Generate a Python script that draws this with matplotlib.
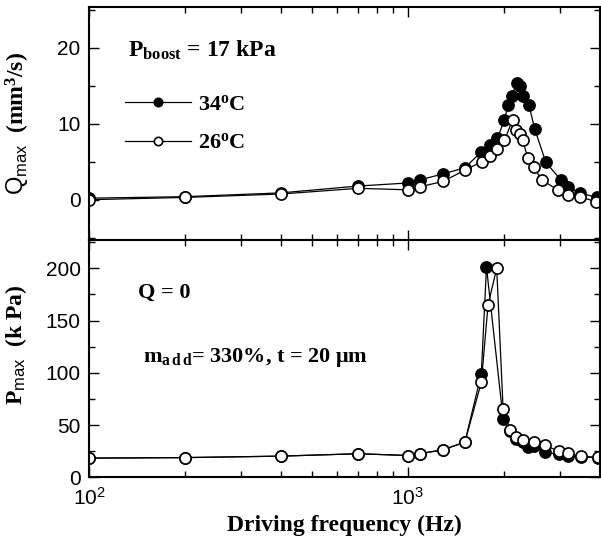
import matplotlib
matplotlib.use("Agg")
import matplotlib.pyplot as plt
from matplotlib.ticker import MultipleLocator, LogLocator, NullFormatter

plt.rcParams['font.family'] = ['Liberation Sans', 'DejaVu Sans']
plt.rcParams['mathtext.fontset'] = 'custom'
plt.rcParams['mathtext.rm'] = 'Liberation Serif:bold'
plt.rcParams['mathtext.bf'] = 'Liberation Serif:bold'
plt.rcParams['mathtext.it'] = 'Liberation Serif:italic:bold'
plt.rcParams['mathtext.sf'] = 'Liberation Sans'

# --- data ---
# top panel: Q_max (mm^3/s) vs driving frequency (Hz)
freq_q_34 = [100, 200, 400, 700, 1000, 1090, 1290, 1510, 1700, 1810, 1910, 2010,
             2060, 2120, 2200, 2250, 2300, 2400, 2500, 2710, 3020, 3180, 3460, 3910]
q_34 = [0.2, 0.4, 0.9, 1.8, 2.2, 2.6, 3.4, 4.2, 6.3, 7.2, 8.1, 10.5,
        12.4, 13.7, 15.4, 15.0, 13.7, 12.4, 9.3, 4.9, 2.6, 1.7, 0.9, 0.3]

freq_q_26 = [100, 200, 400, 700, 1000, 1090, 1290, 1510, 1710, 1810, 1910, 2010,
             2130, 2180, 2240, 2290, 2380, 2480, 2630, 2950, 3180, 3460, 3880]
q_26 = [0.0, 0.3, 0.75, 1.5, 1.3, 1.7, 2.4, 3.9, 5.0, 5.8, 6.7, 7.8,
        10.5, 9.2, 8.6, 7.8, 5.5, 4.3, 2.6, 1.3, 0.65, 0.4, -0.25]

# bottom panel: P_max (kPa) vs driving frequency (Hz), Q = 0
freq_p_34 = [100, 200, 400, 700, 1000, 1090, 1290, 1510, 1700, 1765, 1990,
             2090, 2180, 2290, 2380, 2480, 2690, 2980, 3180, 3480, 3950]
p_34 = [18.5, 19.0, 20.4, 22.7, 21.0, 22.7, 26.5, 33.8, 99, 201, 56,
        44, 37, 34, 29, 30, 24, 22, 21, 19.5, 19.0]

freq_p_26 = [100, 200, 400, 700, 1000, 1090, 1290, 1510, 1700, 1785, 1900,
             1990, 2090, 2180, 2290, 2480, 2690, 2980, 3180, 3480, 3950]
p_26 = [18.5, 19.0, 20.4, 22.7, 21.0, 22.7, 26.5, 33.8, 91, 165, 200,
        65, 45.6, 38.6, 36.1, 33.8, 30.6, 25.2, 23.3, 20.1, 19.4]

fig = plt.figure(figsize=(6.01, 5.45), dpi=100)
ax1 = fig.add_axes([0.148, 0.5596, 0.85, 0.4270])
ax2 = fig.add_axes([0.148, 0.1239, 0.85, 0.4357])

mk = dict(color='black', lw=0.9, marker='o', ms=8, mew=1.2)

ax1.plot(freq_q_34, q_34, mfc='black', label=r'34$^{\rm o}$C', **mk)
ax1.plot(freq_q_26, q_26, mfc='white', label=r'26$^{\rm o}$C', **mk)
ax2.plot(freq_p_34, p_34, mfc='black', **mk)
ax2.plot(freq_p_26, p_26, mfc='white', **mk)

for ax in (ax1, ax2):
    ax.set_xscale('log')
    ax.set_xlim(100, 4000)
    ax.xaxis.set_major_locator(LogLocator(base=10))
    ax.xaxis.set_minor_locator(LogLocator(base=10, subs=range(2, 10)))
    ax.xaxis.set_minor_formatter(NullFormatter())
    ax.tick_params(which='both', direction='in', top=True, right=True,
                   width=1.0, labelsize=15, pad=6)
    ax.tick_params(which='major', length=7)
    ax.tick_params(which='minor', length=4.5)
    for sp in ax.spines.values():
        sp.set_linewidth(1.5)

ax1.set_ylim(-5.3, 25.3)
ax1.yaxis.set_major_locator(MultipleLocator(10))
ax1.yaxis.set_minor_locator(MultipleLocator(5))
ax1.tick_params(axis='x', labelbottom=False)

ax2.set_ylim(0, 227)
ax2.yaxis.set_major_locator(MultipleLocator(50))
ax2.yaxis.set_minor_locator(MultipleLocator(25))
ax2.tick_params(axis='x', pad=7)

ax1.set_ylabel(r'$\mathsf{Q}_{\mathsf{max}}$  (mm$^{\mathrm{3}}$/s)',
               fontsize=17, family='Liberation Serif', weight='bold')
ax1.yaxis.set_label_coords(-0.112, 0.5)
ax2.set_ylabel(r'$\mathrm{P}_{\mathsf{max}}$  (k Pa)',
               fontsize=17, family='Liberation Serif', weight='bold')
ax2.yaxis.set_label_coords(-0.117, 0.56)
ax2.set_xlabel('Driving frequency (Hz)', fontsize=17,
               family='Liberation Serif', weight='bold', labelpad=4)

ax1.text(0.076, 0.786, r'$\mathrm{P_{boost}}$ = 17 kPa', transform=ax1.transAxes,
         fontsize=17, family='Liberation Serif', weight='bold', va='baseline')
leg = ax1.legend(loc='upper left', bbox_to_anchor=(0.07, 0.625), frameon=False,
                 borderpad=0, borderaxespad=0, handlelength=3.0,
                 handletextpad=0.3, labelspacing=0.8, markerscale=0.75,
                 prop={'family': 'Liberation Serif', 'weight': 'bold', 'size': 16})

ax2.text(0.096, 0.756, 'Q = 0', transform=ax2.transAxes,
         fontsize=16, family='Liberation Serif', weight='bold', va='baseline')
ax2.text(0.106, 0.488, r'$\mathrm{m_{a\,d\,d}}$= 330%, t = 20 μm',
         transform=ax2.transAxes, fontsize=16, family='Liberation Serif',
         weight='bold', va='baseline')

fig.savefig('out.png', dpi=100)
